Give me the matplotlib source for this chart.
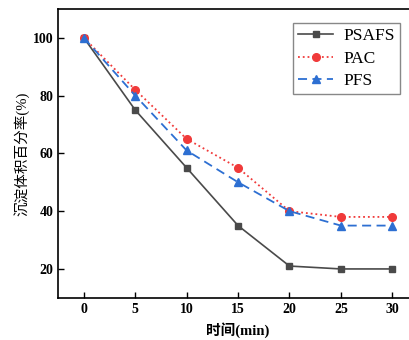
import numpy as np
import matplotlib.pyplot as plt

time_min = [0, 5, 10, 15, 20, 25, 30]
psafs = [100, 75, 55, 35, 21, 20, 20]
pac = [100, 82, 65, 55, 40, 38, 38]
pfs = [100, 80, 61, 50, 40, 35, 35]

serif = ['Liberation Serif', 'Noto Sans CJK SC']
plt.rcParams['font.family'] = serif

fig = plt.figure(figsize=(4.09, 3.40), dpi=100)
# right spine falls just outside the picture, as in the reference
ax = fig.add_axes([0.142, 0.124, 0.88, 0.85])

ax.plot(time_min, psafs, '-s', color='#4a4a4a', lw=1.2, ms=5, label='PSAFS')
ax.plot(time_min, pac, ':o', color='#f03a3a', lw=1.3, ms=5.5, label='PAC')
ax.plot(time_min, pfs, '--^', color='#2d6fd2', lw=1.3, ms=5.5, dashes=(5, 3), label='PFS')

ax.set_xlim(-2.5, 32.5)
ax.set_ylim(10, 110)
ax.set_xticks(time_min)
ax.set_yticks([20, 40, 60, 80, 100])
ax.tick_params(direction='in', length=4, width=1, labelsize=10)
for lab in ax.get_xticklabels() + ax.get_yticklabels():
    lab.set_fontweight('bold')
for s in ax.spines.values():
    s.set_linewidth(1.2)

ax.set_xlabel('时间(min)', fontsize=10.5, fontweight='bold', labelpad=5)
ax.set_ylabel('沉淀体积百分率(%)', fontsize=10.5, labelpad=2)

fig.legend(loc='upper right', bbox_to_anchor=(0.978, 0.932), fontsize=12.5,
           frameon=True, fancybox=False, edgecolor='#888888', framealpha=1,
           handlelength=2.0, borderpad=0.3, labelspacing=0.35, handletextpad=0.6,
           borderaxespad=0)

fig.savefig('out.png', dpi=100)
